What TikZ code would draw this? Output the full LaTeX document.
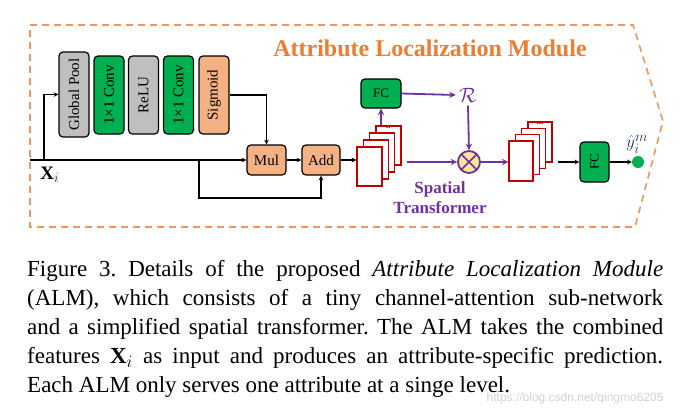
\documentclass[tikz,border=0pt]{standalone}
\usepackage{amsmath}
\usepackage{amssymb}
\usepackage{fontspec}
\setmainfont{Liberation Serif}
\newfontfamily\wmfont{Liberation Sans}
\usepackage{tikz}
\usetikzlibrary{arrows,shapes,positioning}
\usepackage{xcolor}
\definecolor{almorange}{RGB}{237,125,49}
\definecolor{almdash}{RGB}{240,150,90}
\definecolor{almgreen}{RGB}{0,176,80}
\definecolor{almgray}{RGB}{191,191,191}
\definecolor{almpeach}{RGB}{244,177,131}
\definecolor{almpurple}{RGB}{112,48,160}
\definecolor{almred}{RGB}{192,0,0}
\definecolor{almyellow}{RGB}{255,230,153}
\definecolor{almnavy}{RGB}{31,56,100}
\tikzstyle{arrow} = [line width=1.1pt,->,>=stealth,color=black]
\tikzstyle{parrow} = [line width=1.8pt,->,>=stealth,color=almpurple]
\tikzstyle{layer} = [rectangle, rounded corners=4pt, text centered, draw=black, line width=1.2pt, inner sep=0pt, font=\fontsize{15}{15}\selectfont]
\tikzstyle{sheet} = [rectangle, draw=almred, fill=white, line width=1.3pt, inner sep=0pt]

\begin{document}
\begin{tikzpicture}[x=1pt, y=-1pt]
\useasboundingbox (0,0) rectangle (681,416);

% module frame and title
\draw[almdash, line width=1.6pt, dash pattern=on 7pt off 5pt]
  (30,25) -- (633,25) -- (663,121) -- (635,227) -- (30,227) -- cycle;
\node (title) [font=\fontsize{24}{24}\selectfont\bfseries, text=almorange] at (430,48) {Attribute Localization Module};

% channel-attention branch
\node (pool) [layer, fill=almgray, minimum width=30pt, minimum height=85pt] at (74,94.5) {\rotatebox{90}{Global Pool}};
\node (conv1) [layer, fill=almgreen, minimum width=30pt, minimum height=78pt] at (109,95) {\rotatebox{90}{1×1 Conv}};
\node (relu) [layer, fill=almgray, minimum width=30pt, minimum height=78pt] at (143.5,95) {\rotatebox{90}{ReLU}};
\node (conv2) [layer, fill=almgreen, minimum width=30pt, minimum height=78pt] at (178.5,95) {\rotatebox{90}{1×1 Conv}};
\node (sig) [layer, fill=almpeach, minimum width=30pt, minimum height=78pt] at (214,95) {\rotatebox{90}{Sigmoid}};

\node (mul) [layer, fill=almpeach, minimum width=39pt, minimum height=30pt] at (266.5,160) {Mul};
\node (add) [layer, fill=almpeach, minimum width=38pt, minimum height=30pt] at (321,160) {Add};

% input
\coordinate (xin) at (30,160);
\coordinate (split1) at (44,160);
\coordinate (split2) at (199,160);
\node (xlabel) [font=\fontsize{19}{19}\selectfont] at (50,175) {$\mathbf{X}_{\color{almnavy}i}$};

\draw[arrow] (xin) -- (mul.west);
\draw[arrow] (split1) |- (pool.west);
\draw[arrow] (split2) -- ++(0,38) -| (add.south);
\draw[arrow] (sig.east) -| (mul.north);
\draw[arrow] (mul) -- (add);

% feature maps before the spatial transformer
\foreach \i in {3,2,1,0}
  \node (sa\i) [sheet, minimum width=25pt, minimum height=39pt] at ({369.5+6.3*\i},{166.5-7*\i}) {};
\node (dotsa) [text=almred, font=\fontsize{9}{9}\selectfont\bfseries, anchor=north, inner sep=1pt] at ([yshift=-1pt]sa3.north) {..};
\draw[arrow] (add.east) -- (add.east -| sa0.west);

% spatial transformer
\node (fca) [layer, fill=almgreen, minimum width=40pt, minimum height=29pt, font=\fontsize{13}{13}\selectfont] at (381,93.5) {FC};
\node (rmat) [text=almpurple, font=\fontsize{22}{22}\selectfont] at (468,95) {$\mathcal{R}$};
\node (mult) [circle, draw=almpurple, fill=almyellow, line width=1.8pt, minimum size=22pt, inner sep=0pt,
  path picture={\draw[almpurple, line width=1.6pt]
    (path picture bounding box.north west) -- (path picture bounding box.south east)
    (path picture bounding box.south west) -- (path picture bounding box.north east);}] at (469,162) {};
\node (stlabel) [text=almpurple, font=\fontsize{17}{20}\selectfont\bfseries, align=center] at (440,198) {Spatial\\Transformer};

\draw[parrow] (fca.south |- sa3.north) -- (fca.south);
\draw[parrow] (fca.east) -- (rmat.west);
\draw[parrow] (rmat.south) -- (mult.north);
\draw[parrow] ([xshift=5pt]sa3.east |- mult.west) -- (mult.west);

% transformed feature maps and prediction
\foreach \i in {3,2,1,0}
  \node (sb\i) [sheet, minimum width=24pt, minimum height=40pt] at ({521+6.3*\i},{161-6.3*\i}) {};
\node (dotsb) [text=almred, font=\fontsize{9}{9}\selectfont\bfseries, anchor=north, inner sep=1pt] at ([yshift=-1pt]sb3.north) {...};
\draw[parrow] (mult.east) -- (mult.east -| sb0.west);

\node (fcb) [layer, fill=almgreen, minimum width=29pt, minimum height=40pt, font=\fontsize{13}{13}\selectfont] at (594.5,162) {\rotatebox{90}{FC}};
\node (pred) [circle, fill=almgreen, minimum size=12pt, inner sep=0pt] at (638,162) {};
\node (ylabel) [text=almnavy, font=\fontsize{19}{19}\selectfont, anchor=south, inner sep=0pt] at (637,154) {$\hat{y}_i^m$};

\draw[arrow] ([xshift=5pt]sb3.east |- fcb.west) -- (fcb.west);
\draw[arrow] (fcb.east) -- (pred.west);

% caption
\node (caption) [anchor=north west, text width=636pt, align=justify, inner sep=0pt, font=\fontsize{23}{29}\selectfont\frenchspacing] at (27,260) {%
Figure 3. Details of the proposed \textit{Attribute Localization Module}\linebreak
(ALM), which consists of a tiny channel-attention sub-network\linebreak
and a simplified spatial transformer. The ALM takes the combined\linebreak
features $\mathbf{X}_i$ as input and produces an attribute-specific prediction.\linebreak
Each ALM only serves one attribute at a singe level.\par};
\node (mark) [anchor=east, text=black!18, font=\wmfont\fontsize{12}{12}\selectfont] at (667,398) {https://blog.csdn.net/qingmo6205};
\end{tikzpicture}
\end{document}
